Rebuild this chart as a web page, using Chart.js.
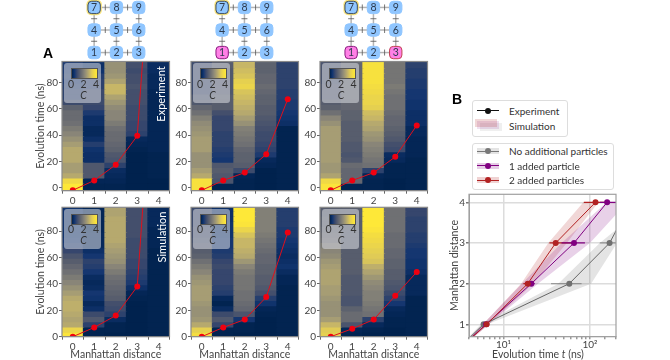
<!DOCTYPE html>
<html>
<head>
<meta charset="utf-8">
<script src="https://cdn.jsdelivr.net/npm/chart.js@4"></script>
<style>
  html, body { margin: 0; background: #fff; }
  #page { position: relative; width: 670px; height: 360px; overflow: hidden; font-family: Lato, sans-serif; color: #333; }
  canvas { position: absolute; }
  .txt { position: absolute; white-space: nowrap; }
  .inset { position: absolute; width: 37px; height: 40px; background: rgba(220,222,228,0.55); border-radius: 3px; }
  .inset .bar { position: absolute; left: 7px; top: 5px; width: 25px; height: 9px; border: 0.5px solid #555; }
  .inset span { position: absolute; font-size: 10.5px; line-height: 11px; transform: translateX(-50%); color: #333; }
  .legbox { position: absolute; border: 1px solid #ddd; border-radius: 3px; box-sizing: border-box; background: #fff; }
  .hline { position: absolute; height: 1px; width: 22px; left: 477px; }
  .hdot { position: absolute; width: 6px; height: 6px; border-radius: 3px; left: 485px; }
  .hband { position: absolute; height: 6px; width: 22px; left: 477px; opacity: 0.2; }
  .legtxt { position: absolute; left: 509px; font-size: 10px; line-height: 12px; white-space: nowrap; }
</style>
</head>
<body>
<div id="page"></div>
<script>
// Heat map axes
const distances = ["0", "1", "2", "3", "4"];
const timeTicks = [0, 20, 40, 60, 80];
// time bin centres in ns
const timeBins = [0, 4, 8, 12, 16, 20, 24, 28, 32, 36, 40, 44, 48, 52, 56, 60, 64, 68, 72, 76, 80, 84, 88, 92, 96];

// Correlator C, one row per distance
const expNone = [
  [4.2,3.8,3.0,2.8,2.8,3.0,3.0,3.0,2.8,2.6,2.4,2.2,2.0,1.9,1.9,1.7,1.2,1.0,1.0,0.9,0.8,0.9,0.8,0.8,0.8],
  [0.1,0.2,1.5,1.5,1.5,0.5,0.5,0.6,0.9,0.5,0.3,0.3,0.5,0.5,0.8,1.1,1.2,1.2,1.2,1.0,1.0,0.9,0.6,0.5,0.5],
  [0.1,0.2,0.3,0.4,1.0,1.4,1.5,1.7,1.8,1.9,1.9,2.0,2.2,2.4,2.4,2.5,2.7,2.9,3.2,3.2,2.9,2.7,2.6,2.6,2.6],
  [0.0,0.0,0.0,0.0,0.0,0.0,0.0,0.1,0.2,0.3,1.0,1.1,1.1,1.2,1.2,1.2,1.3,1.3,1.3,1.4,1.3,1.3,1.2,1.3,1.2],
  [0.0,0.0,0.1,0.1,0.1,0.1,0.1,0.2,0.2,0.2,0.2,0.2,0.2,0.2,0.2,0.2,0.2,0.2,0.2,0.3,0.3,0.3,0.4,0.4,0.4]
];
const expOne = [
  [4.0,4.0,3.0,2.8,2.6,2.6,2.6,2.8,2.8,2.8,2.7,2.6,2.5,2.3,2.0,1.8,1.5,1.4,1.2,1.2,1.2,1.2,1.2,1.2,1.2],
  [0.1,1.4,1.5,1.6,1.5,0.7,0.8,0.9,1.0,1.0,1.0,1.1,1.1,1.1,1.3,1.6,1.6,1.6,1.5,1.5,1.5,1.5,1.5,1.6,1.6],
  [0.1,0.1,0.2,1.2,1.6,1.7,1.7,1.8,2.0,2.1,2.2,2.3,2.6,2.8,3.0,3.1,3.2,3.3,3.4,3.7,3.6,3.4,3.3,3.2,3.3],
  [0.0,0.0,0.0,0.0,0.2,0.3,0.8,1.0,1.1,1.2,1.2,1.3,1.4,1.5,1.6,1.6,1.7,1.7,1.8,1.9,1.8,1.8,1.7,1.7,1.7],
  [0.1,0.1,0.1,0.1,0.1,0.1,0.1,0.1,0.1,0.1,0.1,0.1,0.5,0.6,0.7,0.8,0.8,0.9,0.9,1.0,1.0,1.0,1.0,1.0,1.0]
];
const expTwo = [
  [4.1,3.8,2.9,2.7,2.7,2.8,2.8,2.8,2.8,2.8,2.8,2.8,2.6,2.4,2.0,1.7,1.6,1.5,1.5,1.5,1.4,1.4,1.4,1.4,1.4],
  [0.1,1.8,1.8,1.8,1.9,1.5,1.4,1.5,1.5,1.6,1.6,1.6,1.6,1.7,1.7,1.8,1.8,1.8,1.8,1.8,1.8,1.8,1.8,1.8,1.8],
  [0.1,0.1,0.2,1.0,2.0,2.1,2.2,2.3,2.4,2.6,2.7,2.9,3.0,3.2,3.3,3.6,3.7,3.7,3.8,3.9,4.0,4.0,4.0,4.0,4.0],
  [0.0,0.0,0.1,0.1,0.1,0.3,0.4,1.2,1.3,1.5,1.6,1.7,1.8,1.8,1.9,2.0,2.0,2.0,2.1,2.2,2.1,2.1,2.1,2.1,2.1],
  [0.1,0.1,0.1,0.1,0.1,0.1,0.2,0.2,0.2,0.2,0.3,0.3,0.5,0.5,0.5,0.6,0.6,0.7,0.7,0.8,0.8,0.9,0.9,1.0,1.0]
];
const simNone = [
  [4.1,3.7,3.0,2.9,3.0,3.1,3.1,3.0,2.8,2.6,2.4,2.2,2.0,1.8,1.6,1.4,1.1,0.8,0.7,0.6,0.6,0.6,0.6,0.6,0.6],
  [0.1,0.1,1.0,1.5,1.2,0.5,0.3,0.6,0.7,0.4,0.3,0.4,0.7,0.9,1.0,0.7,0.5,0.3,0.3,0.3,0.2,0.2,0.2,0.2,0.2],
  [0.0,0.1,0.1,0.4,1.0,1.2,1.3,1.6,1.7,1.8,1.9,2.0,2.2,2.4,2.6,2.7,2.8,2.9,3.0,3.0,3.0,3.0,3.0,2.9,2.9],
  [0.0,0.0,0.0,0.0,0.0,0.0,0.0,0.1,0.2,0.5,0.8,0.9,1.0,1.1,1.1,1.2,1.2,1.2,1.2,1.3,1.3,1.3,1.3,1.3,1.3],
  [0.1,0.1,0.1,0.1,0.1,0.1,0.1,0.1,0.1,0.1,0.1,0.1,0.1,0.1,0.1,0.1,0.1,0.2,0.2,0.2,0.2,0.3,0.3,0.3,0.3]
];
const simOne = [
  [3.9,3.6,3.0,2.7,2.6,2.6,2.7,2.8,2.8,2.8,2.7,2.6,2.4,2.2,2.0,1.7,1.6,1.5,1.4,1.3,1.3,1.2,1.2,1.2,1.2],
  [0.1,0.1,1.1,1.5,1.2,0.4,0.1,0.3,0.9,1.0,1.1,1.1,1.1,1.2,1.1,0.9,0.8,0.7,0.7,0.6,0.6,0.6,0.5,0.5,0.5],
  [0.0,0.1,0.1,0.7,1.4,1.8,1.9,2.0,2.0,2.1,2.1,2.1,2.2,2.4,2.7,3.0,3.1,3.2,3.2,3.4,3.7,4.1,4.3,4.4,4.4],
  [0.0,0.0,0.0,0.0,0.1,0.2,0.6,0.9,1.3,1.5,1.6,1.6,1.7,1.7,1.8,1.8,1.9,2.0,2.1,2.2,2.3,2.3,2.3,2.3,2.3],
  [0.1,0.1,0.1,0.1,0.1,0.1,0.1,0.1,0.1,0.1,0.2,0.2,0.4,0.6,0.5,0.4,0.5,0.6,0.7,0.8,0.8,0.9,0.9,0.9,0.9]
];
const simTwo = [
  [3.6,3.5,3.2,2.8,2.6,2.6,2.6,2.7,2.8,2.8,2.9,2.9,2.9,2.8,2.7,2.5,2.4,2.2,2.0,1.9,1.8,1.7,1.7,1.6,1.6],
  [0.1,0.2,1.4,1.9,1.9,1.7,1.4,1.4,1.5,1.5,1.5,1.5,1.6,1.6,1.6,1.6,1.6,1.6,1.6,1.6,1.6,1.6,1.6,1.6,1.6],
  [0.0,0.1,0.3,1.0,2.0,2.1,2.2,2.3,2.3,2.4,2.5,2.7,2.9,3.1,3.4,3.5,3.6,3.7,3.8,3.9,4.1,4.2,4.3,4.4,4.4],
  [0.0,0.0,0.1,0.1,0.2,0.3,0.7,1.0,1.2,1.4,1.5,1.6,1.6,1.7,1.7,1.8,1.8,1.9,1.9,1.9,2.0,2.0,2.0,2.0,2.0],
  [0.1,0.1,0.1,0.1,0.1,0.1,0.1,0.1,0.3,0.3,0.3,0.3,0.5,0.6,0.6,0.7,0.7,0.8,0.9,0.9,1.0,1.0,1.0,1.1,1.1]
];

// Red arrival curves, t in ns at each distance
const arrivalExpNone = [-2, 5.5, 17.5, 39.5, 270];
const arrivalExpOne = [-2, 5.5, 11.5, 25.5, 67.5];
const arrivalExpTwo = [-2, 5.5, 11.5, 23.5, 47.5];
const arrivalSimNone = [0, 7, 16, 38, 270];
const arrivalSimOne = [0, 7, 13, 30, 79];
const arrivalSimTwo = [0, 6, 13, 31, 49];

// Panel B, time in ns for distances 0..4
const panelDistances = [0, 1, 2, 3, 4];
const panelDistanceTicks = [1, 2, 3, 4];
const timeNone = [1.9, 5.9, 57.7, 168.6, 300];
const timeOne = [1.9, 6.3, 21, 65.4, 158];
const timeTwo = [1.9, 6.4, 19.1, 40.2, 116];
// horizontal error bars: [low, high, distance]
const errNone = [[35.5, 80, 2], [130, 220, 3]];
const errOne = [[18, 23, 2], [47, 87.5, 3], [130, 220, 4]];
const errTwo = [[17, 21, 2], [34, 61.5, 3], [85, 155, 4]];
// simulation bands, outline as [t, distance]
const bandNone = [[1.9, 0], [5.5, 1], [43, 2], [130, 3], [220, 3.4], [205, 3], [103, 2], [6.5, 1]];
const bandOne = [[1.9, 0], [5.8, 1], [16.3, 2], [47, 3], [156, 4], [270, 4], [100, 3], [25, 2], [6.8, 1]];
const bandTwo = [[1.9, 0], [5.8, 1], [16, 2], [33, 3], [84, 4], [125, 4], [54, 3], [22, 2], [6.8, 1]];

// Qubit lattice sketches
const qubitIds = ["1", "2", "3", "4", "5", "6", "7", "8", "9"];
const qubitCol = [0, 1, 2, 0, 1, 2, 0, 1, 2];
const qubitRow = [0, 0, 0, 1, 1, 1, 2, 2, 2];
const bonds = [[0, 1], [1, 2], [3, 4], [4, 5], [6, 7], [7, 8], [0, 3], [1, 4], [2, 5], [3, 6], [4, 7], [5, 8]];
const addedNone = [];
const addedOne = ["1"];
const addedTwo = ["1", "3"];

const cividis = ["#00224e", "#123570", "#3b496c", "#575d6d", "#707173", "#8a8678", "#a59c74", "#c3b369", "#e1cc55", "#f3dc42", "#fee838"];
const fontFamily = "Lato";
const page = document.getElementById("page");

function hexRgb(h) {
  return [1, 3, 5].map(i => parseInt(h.substr(i, 2), 16));
}

// The mid range of C looks muted in the original, hence the power
function colourFor(c) {
  const p = Math.pow(Math.max(0, Math.min(1, c / 4.2)), 1.25) * (cividis.length - 1);
  const i = Math.min(Math.floor(p), cividis.length - 2);
  const a = hexRgb(cividis[i]), b = hexRgb(cividis[i + 1]);
  const f = p - i;
  return `rgb(${a.map((v, k) => Math.round(v + (b[k] - v) * f)).join(",")})`;
}

function addCanvas(left, top, w, h) {
  const c = document.createElement("canvas");
  c.width = w; c.height = h;
  c.style.left = left + "px";
  c.style.top = top + "px";
  c.style.width = w + "px";
  c.style.height = h + "px";
  page.appendChild(c);
  return c.getContext("2d");
}

function addText(html, left, top, css) {
  const d = document.createElement("div");
  d.className = "txt";
  d.innerHTML = html;
  d.style.cssText = `left:${left}px;top:${top}px;${css || ""}`;
  page.appendChild(d);
  return d;
}

// Box round the plot, drawn last
const spinePlugin = {
  id: "spine",
  afterDraw(chart, args, opts) {
    const { ctx, chartArea: a } = chart;
    ctx.save();
    ctx.strokeStyle = opts.color || "#8a8a8a";
    ctx.lineWidth = 1.2;
    ctx.strokeRect(a.left, a.top, a.right - a.left, a.bottom - a.top);
    ctx.restore();
  }
};

// Tick labels must not add margins, the plot box is fixed by hand
function noOverhang(s) {
  s.paddingTop = 0;
  s.paddingBottom = 0;
  s.paddingLeft = 0;
  s.paddingRight = 0;
}

function heatPanel(opts) {
  const ctx = addCanvas(opts.left - 28, Math.floor(opts.top) - 1, 138, opts.canvasH);
  const padTop = opts.top - Math.floor(opts.top) + 1;
  // cells overlap by over a pixel, or white leaks through between them
  const datasets = timeBins.map((t, b) => ({
    type: "bar",
    order: 1,
    data: distances.map(() => [t - 2, t + 3]),
    backgroundColor: opts.matrix.map(col => colourFor(col[b])),
    borderWidth: 0,
    barPercentage: 1.06,
    categoryPercentage: 1
  }));
  datasets.push({
    type: "line",
    order: 0,
    data: opts.arrival,
    borderColor: "#e0101c",
    borderWidth: 1,
    backgroundColor: "#f00010",
    pointRadius: 3,
    pointBorderWidth: 0,
    tension: 0
  });
  new Chart(ctx, {
    data: { labels: distances, datasets },
    plugins: [spinePlugin],
    options: {
      responsive: false,
      animation: false,
      layout: { autoPadding: false, padding: { top: padTop, right: 2.5 } },
      plugins: { legend: { display: false }, tooltip: { enabled: false }, spine: {} },
      scales: {
        x: {
          offset: true,
          stacked: true,
          border: { color: "#8a8a8a" },
          grid: { drawOnChartArea: false, tickLength: 3, tickColor: "#666" },
          ticks: { color: "#444", font: { size: 10, family: fontFamily }, padding: 1, maxRotation: 0 },
          title: { display: opts.xTitle, text: "Manhattan distance", color: "#444", padding: 0, font: { size: 10.5, family: fontFamily } },
          afterFit: s => { noOverhang(s); s.height = opts.canvasH - padTop - opts.plotH; }
        },
        y: {
          stacked: false,
          min: opts.yMin,
          max: opts.yMax,
          border: { color: "#8a8a8a" },
          grid: { drawOnChartArea: false, tickLength: 3, tickColor: "#666" },
          ticks: { color: "#444", font: { size: 10, family: fontFamily }, padding: 1 },
          afterBuildTicks: s => { s.ticks = timeTicks.map(v => ({ value: v })); },
          title: { display: opts.yTitle, text: "Evolution time (ns)", color: "#444", padding: 0, font: { size: 10.5, family: fontFamily } },
          afterFit: s => { noOverhang(s); s.width = 28; }
        }
      }
    }
  });

  // little colour bar in the corner of each panel
  const inset = document.createElement("div");
  inset.className = "inset";
  inset.style.left = (opts.left + 2) + "px";
  inset.style.top = (opts.top + 1.5) + "px";
  const stops = cividis.join(",");
  inset.innerHTML = `<div class="bar" style="background:linear-gradient(to right,${stops})"></div>` +
    `<span style="left:7px;top:15.5px">0</span><span style="left:19.5px;top:15.5px">2</span><span style="left:32px;top:15.5px">4</span>` +
    `<span style="left:19.5px;top:26.5px;font-style:italic">C</span>`;
  page.appendChild(inset);
}

function latticePanel(left, added) {
  const ctx = addCanvas(left, 0, 68, 60);
  const pts = qubitIds.map((id, i) => ({ x: qubitCol[i], y: qubitRow[i] }));
  const bondLines = bonds.map(b => ({
    type: "line",
    data: [pts[b[0]], pts[b[1]]],
    borderColor: "#b4b4b4",
    borderWidth: 1.5,
    pointRadius: 0
  }));
  const marks = bonds.map(b => ({
    x: (pts[b[0]].x + pts[b[1]].x) / 2,
    y: (pts[b[0]].y + pts[b[1]].y) / 2,
    rot: pts[b[0]].y === pts[b[1]].y ? 90 : 0
  }));
  const nodeFill = qubitIds.map(id => added.includes(id) ? "#ff80e6" : "#90c6ff");
  const nodeEdge = qubitIds.map(id => {
    if (id === "7") return "#3a4a60";
    if (id === "1" && added.includes(id)) return "#8a1a80";
    if (id === "3" && added.includes(id)) return "#c04050";
    return "#90c6ff";
  });
  new Chart(ctx, {
    type: "scatter",
    data: {
      datasets: [
        // glow under the source qubit
        { data: [pts[6]], pointStyle: "rectRounded", pointRadius: 9, backgroundColor: "#f7e27a", pointBorderWidth: 0, order: 3 },
        ...bondLines.map(d => ({ ...d, order: 4 })),
        { data: marks, pointStyle: "line", pointRadius: 3, borderColor: "#555", pointBorderWidth: 0.8, pointRotation: marks.map(m => m.rot), order: 2 },
        { data: pts, pointStyle: "rectRounded", pointRadius: 7.2, backgroundColor: nodeFill, borderColor: nodeEdge, pointBorderWidth: 1, order: 1 }
      ]
    },
    plugins: [{
      id: "qubitLabels",
      afterDatasetsDraw(chart) {
        const c = chart.ctx;
        c.save();
        c.font = `10.5px ${fontFamily}`;
        c.fillStyle = "#2c3a4e";
        c.textAlign = "center";
        c.textBaseline = "middle";
        qubitIds.forEach((id, i) => {
          c.fillText(id, chart.scales.x.getPixelForValue(qubitCol[i]), chart.scales.y.getPixelForValue(qubitRow[i]) + 0.5);
        });
        c.restore();
      }
    }],
    options: {
      responsive: false,
      animation: false,
      layout: { autoPadding: false },
      plugins: { legend: { display: false }, tooltip: { enabled: false } },
      scales: {
        x: { display: false, min: -0.5, max: 2.55 },
        y: { display: false, min: -0.33, max: 2.33 }
      }
    }
  });
}

function errLines(list, colour) {
  return list.map(e => ({
    type: "line",
    order: 4,
    data: [{ x: e[0], y: e[2] }, { x: e[1], y: e[2] }],
    borderColor: colour,
    borderWidth: 1.2,
    pointRadius: 0
  }));
}

function bandShape(list, colour) {
  return {
    type: "line",
    order: 6,
    data: list.map(p => ({ x: p[0], y: p[1] })),
    borderWidth: 0,
    borderColor: "transparent",
    backgroundColor: colour,
    fill: "shape",
    pointRadius: 0,
    tension: 0
  };
}

function timeLine(times, colour, edge, order) {
  return {
    type: "line",
    order,
    data: times.map((t, i) => ({ x: t, y: panelDistances[i] })),
    borderColor: colour,
    borderWidth: 1,
    pointRadius: 3,
    pointBorderWidth: 0,
    backgroundColor: edge,
    tension: 0
  };
}

function arrivalPanel() {
  const ctx = addCanvas(448, 192, 172, 168);
  new Chart(ctx, {
    data: {
      datasets: [
        bandShape(bandNone, "rgba(120,120,120,0.2)"),
        bandShape(bandOne, "rgba(128,0,128,0.18)"),
        bandShape(bandTwo, "rgba(178,34,34,0.18)"),
        ...errLines(errNone, "rgba(110,110,110,0.6)"),
        ...errLines(errOne, "#800080"),
        ...errLines(errTwo, "#b22222"),
        timeLine(timeNone, "#666", "#707070", 3),
        timeLine(timeOne, "#800080", "#800080", 2),
        timeLine(timeTwo, "#b22222", "#b22222", 1)
      ]
    },
    plugins: [spinePlugin],
    options: {
      responsive: false,
      animation: false,
      layout: { autoPadding: false, padding: { top: 2.3, right: 4 } },
      plugins: { legend: { display: false }, tooltip: { enabled: false }, spine: { color: "#a0a0a0" } },
      scales: {
        x: {
          type: "logarithmic",
          min: 4,
          max: 200,
          border: { color: "#a0a0a0" },
          grid: {
            color: c => [10, 100].includes(c.tick.value) ? "#dcdcdc" : "transparent",
            lineWidth: 1.5,
            tickLength: 2.5,
            tickColor: "#999"
          },
          ticks: {
            autoSkip: false,
            maxRotation: 0,
            color: "#444",
            padding: 0,
            font: { size: 10, family: fontFamily },
            callback: v => v === 10 ? "10¹" : v === 100 ? "10²" : ""
          },
          afterFit: s => { noOverhang(s); s.height = 23.3; }
        },
        y: {
          min: 0.695,
          max: 4.197,
          border: { color: "#a0a0a0" },
          grid: { color: "#dcdcdc", lineWidth: 1.5, tickLength: 3, tickColor: "#777" },
          ticks: { color: "#444", padding: 1, font: { size: 10, family: fontFamily } },
          afterBuildTicks: s => { s.ticks = panelDistanceTicks.map(v => ({ value: v })); },
          title: { display: true, text: "Manhattan distance", color: "#444", padding: 0, font: { size: 10.5, family: fontFamily } },
          afterFit: s => { noOverhang(s); s.width = 21; }
        }
      }
    }
  });
}

// Top row: experiment, bottom row: simulation
const columnLefts = [62, 191, 319.5];
const expMatrices = [expNone, expOne, expTwo];
const simMatrices = [simNone, simOne, simTwo];
const expArrivals = [arrivalExpNone, arrivalExpOne, arrivalExpTwo];
const simArrivals = [arrivalSimNone, arrivalSimOne, arrivalSimTwo];

columnLefts.forEach((left, i) => {
  heatPanel({ left, top: 61.5, canvasH: 150, plotH: 129.2, yMin: -2.3, yMax: 96.2, matrix: expMatrices[i], arrival: expArrivals[i], xTitle: false, yTitle: i === 0 });
  heatPanel({ left, top: 207.3, canvasH: 155, plotH: 129.4, yMin: 0, yMax: 98, matrix: simMatrices[i], arrival: simArrivals[i], xTitle: true, yTitle: i === 0 });
});

latticePanel(83.4, addedNone);
latticePanel(211.3, addedOne);
latticePanel(340, addedTwo);
arrivalPanel();

// Labels that sit on top of the charts
addText("A", 43, 45, "font:bold 14px 'Liberation Sans';color:#000");
addText("B", 452, 91, "font:bold 14px 'Liberation Sans';color:#000");
addText("Experiment", 160.5, 93.5, "font-size:11px;line-height:12px;color:#fff;transform:translate(-50%,-50%) rotate(-90deg)");
addText("Simulation", 161.5, 236.5, "font-size:11px;line-height:12px;color:#fff;transform:translate(-50%,-50%) rotate(-90deg)");
addText("Evolution time <i>t</i> (ns)", 538, 348, "font-size:10.5px;line-height:12px;color:#444;transform:translateX(-50%)");

// Legend boxes for panel B
function legendBox(left, top, w, h) {
  const d = document.createElement("div");
  d.className = "legbox";
  d.style.cssText = `left:${left}px;top:${top}px;width:${w}px;height:${h}px`;
  page.appendChild(d);
}

function legendHandle(y, colour, band) {
  if (band) {
    const b = document.createElement("div");
    b.className = "hband";
    b.style.cssText = `top:${y - 3}px;background:${band}`;
    page.appendChild(b);
  }
  const l = document.createElement("div");
  l.className = "hline";
  l.style.cssText = `top:${y - 0.5}px;background:${colour}`;
  page.appendChild(l);
  const o = document.createElement("div");
  o.className = "hdot";
  o.style.cssText = `top:${y - 3}px;background:${colour}`;
  page.appendChild(o);
}

function legendText(label, y) {
  const t = document.createElement("div");
  t.className = "legtxt";
  t.style.top = (y - 6) + "px";
  t.textContent = label;
  page.appendChild(t);
}

legendBox(471.5, 100, 96.5, 37);
legendHandle(110.5, "#111");
legendText("Experiment", 110.5);
addText("", 480, 122.7, "width:22px;height:8px;background:rgba(120,120,120,0.12)");
addText("", 477, 121.3, "width:22px;height:8px;background:rgba(128,0,128,0.12)");
addText("", 475, 119.3, "width:22px;height:8px;background:rgba(178,34,34,0.18)");
legendText("Simulation", 125.5);
legendBox(471.5, 142.5, 142, 47);
legendHandle(151, "#777", "#777");
legendText("No additional particles", 151);
legendHandle(165.5, "#800080", "#800080");
legendText("1 added particle", 165.5);
legendHandle(180, "#b22222", "#b22222");
legendText("2 added particles", 180);
</script>
</body>
</html>
